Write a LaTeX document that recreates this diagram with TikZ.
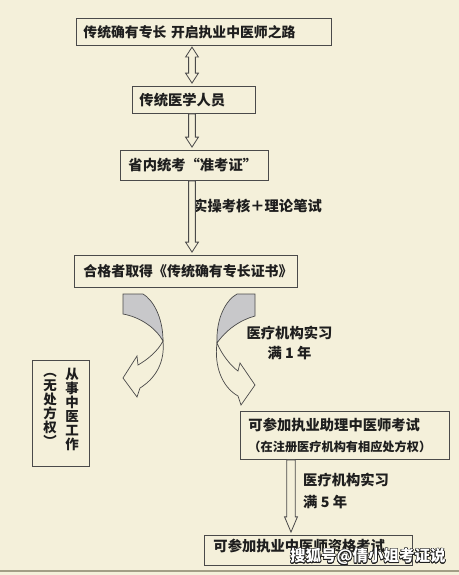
\documentclass[tikz,border=0pt]{standalone}
\usepackage{fontspec}
\usepackage{xcolor}
\usepackage{contour}
\setmainfont{Noto Sans CJK SC}
\usetikzlibrary{calc}
\definecolor{paper}{HTML}{F4F0DA}
\definecolor{edge}{HTML}{4A4A4A}
\definecolor{ink}{HTML}{1E1E1E}
\definecolor{fold}{HTML}{C8C8CA}
\definecolor{rim}{HTML}{A39E86}
\contourlength{0.5pt}

% hollow block arrow pointing down: from, to, shaft half width, head length
\newcommand{\hollowdown}[4]{%
  \draw[hollow] let \p1=(#1), \p2=(#2) in
    (\x1-#3,\y1) -- (\x1-#3,\y2+#4+2.5pt) -- (\x1-5.5pt,\y2+#4+2.5pt) -- (\x1,\y2+2.5pt)
    -- (\x1+5.5pt,\y2+#4+2.5pt) -- (\x1+#3,\y2+#4+2.5pt) -- (\x1+#3,\y1) -- cycle;}
% hollow block arrow with a head at both ends
\newcommand{\hollowboth}[2]{%
  \draw[hollow] let \p1=(#1), \p2=(#2) in
    (\x1,\y1-1pt) -- (\x1-5.5pt,\y1-9.5pt) -- (\x1-2.9pt,\y1-9.5pt) -- (\x1-2.9pt,\y2+11pt)
    -- (\x1-5.5pt,\y2+11pt) -- (\x1,\y2+2.5pt) -- (\x1+5.5pt,\y2+11pt) -- (\x1+2.9pt,\y2+11pt)
    -- (\x1+2.9pt,\y1-9.5pt) -- (\x1+5.5pt,\y1-9.5pt) -- cycle;}

\begin{document}
\begin{tikzpicture}[
    x=0.03cm, y=-0.03cm,
    box/.style={draw=edge, line width=0.8pt, fill=paper, anchor=north west, align=left, inner ysep=0pt, text=ink, font=\bfseries\fontsize{12.2}{14}\selectfont},
    note/.style={inner sep=0pt, text=ink, font=\bfseries\fontsize{12.2}{14}\selectfont},
    col/.style={inner sep=0pt, align=center, text=ink, font=\bfseries\fontsize{11.5}{12}\selectfont},
    hollow/.style={draw=edge, line width=0.7pt, fill=paper},
    front/.style={draw=edge, line width=0.6pt, fill=paper},
    back/.style={draw=edge, line width=0.6pt, fill=fold}
]
\useasboundingbox (0,0) rectangle (459,575);
\fill[paper] (0,0) rectangle (459,575);
\draw[rim, line width=1.6pt] (0,571) -- (459,571);

% Axes of the straight arrows
\coordinate (axis) at (192,0);
\coordinate (axisb) at (291,0);

% Top box
\node[box, inner xsep=0.21cm, text width=7.23cm, minimum height=0.81cm, font=\bfseries\fontsize{11.8}{14}\selectfont] (path) at (76,18) {传统确有专长 开启执业中医师之路};

% Traditional medicine staff
\node[box, inner xsep=0.21cm, text width=3.27cm, minimum height=0.81cm] (staff) at (132,86) {传统医学人员};

% Provincial exam
\node[box, inner xsep=0.24cm, text width=3.96cm, minimum height=0.9cm] (exam) at (120,150) {省内统考“准考证”};

% Certificate
\node[box, inner xsep=0.27cm, text width=6.15cm, minimum height=0.96cm, font=\bfseries\fontsize{11.9}{14}\selectfont] (cert) at (74,255) {合格者取得《传统确有专长证书》};

% Practice without prescription right
\node[draw=edge, line width=0.8pt, fill=paper, minimum width=1.71cm, minimum height=3.18cm] (practice) at (60.5,413) {};
\node[col] (workcol) at (72,409.5) {从\\事\\中\\医\\工\\作};
\node[col] (rightcol) at (50,410) {︵\\无\\处\\方\\权\\︶};

% Assistant exam
\node[box, inner xsep=0.24cm, text width=5.79cm, minimum height=1.44cm] (assist) at (240,411) {可参加执业助理中医师考试\\[4pt]{\fontsize{10.4}{12}\selectfont （在注册医疗机构有相应处方权）}};

% Full exam
\node[box, inner xsep=0.27cm, text width=5.7cm, inner ysep=0.09cm, text height=0.39cm, text depth=0.33cm] (full) at (204,535) {可参加执业中医师资格考试};

% Labels
\node[note, anchor=west] (skill) at (193,206) {实操考核＋理论笔试};
\node[note, align=center] (intern1) at (289.5,343) {医疗机构实习\\[3pt]满 1 年};
\node[note, align=left, anchor=west] (intern5) at (303,491) {医疗机构实习\\[4.5pt]满 5 年};

% Straight arrows
\hollowboth{axis |- path.south}{axis |- staff.north}
\hollowdown{axis |- staff.south}{axis |- exam.north}{2.9pt}{8.5pt}
\hollowdown{axis |- exam.south}{axis |- cert.north}{2.9pt}{8.5pt}
\hollowdown{axisb |- assist.south}{axisb |- full.north}{3.6pt}{13pt}

% Curved arrow to the left
\filldraw[back] (123,294) -- (143,294) .. controls (152,299) and (163,316) .. (163,341) .. controls (156,328) and (140,317) .. (123,314) -- cycle;
\filldraw[front] (163,341) .. controls (158,351) and (147,360) .. (138,365) -- (137,356) -- (123,378) -- (137,397) -- (140,388) .. controls (156,378) and (165,362) .. (163,341) -- cycle;

% Curved arrow to the right
\filldraw[back] (255,294) -- (237,294) .. controls (226,300) and (216,318) .. (217,343) .. controls (226,330) and (240,320) .. (255,316) -- cycle;
\filldraw[front] (217,343) .. controls (222,355) and (231,366) .. (238,371) -- (240,363) -- (255,385) -- (241,405) -- (238,396) .. controls (222,387) and (214,366) .. (217,343) -- cycle;

% Watermark
\node[anchor=west, inner sep=0pt, text=white, font=\bfseries\fontsize{13.2}{15}\selectfont] (mark) at (290,557) {\contour{ink}{搜狐号@倩小姐考证说}};

\end{tikzpicture}
\end{document}
